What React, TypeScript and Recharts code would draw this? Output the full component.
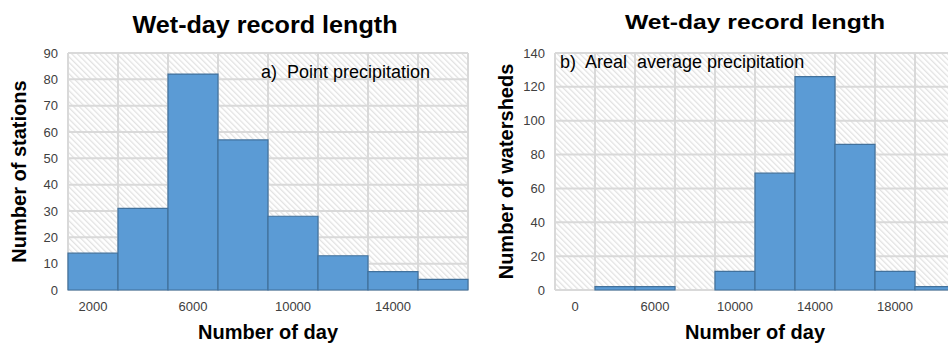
import { Bar, BarChart, CartesianGrid, XAxis, YAxis } from "recharts";

// a) point precipitation, bins of 2000 days
const binsA = ["2000", "4000", "6000", "8000", "10000", "12000", "14000", "16000"];
const stationsA = [14, 31, 82, 57, 28, 13, 7, 4];
const yTicksA = [0, 10, 20, 30, 40, 50, 60, 70, 80, 90];

// b) areal average precipitation
const binsB = ["0", "3000", "6000", "8000", "10000", "12000", "14000", "16000", "18000", "20000"];
const watershedsB = [0, 2, 2, 0, 11, 69, 126, 86, 11, 2];
const yTicksB = [0, 20, 40, 60, 80, 100, 120, 140];

const dataA = binsA.map((bin, i) => ({ bin, count: stationsA[i] }));
const dataB = binsB.map((bin, i) => ({ bin, count: watershedsB[i] }));

const FONT = "'Liberation Sans', Arial, sans-serif";
const tickStyle = { fontSize: 13, fill: "#404040", fontFamily: FONT };
const axisTitle = { fontSize: 20, fontWeight: 700, fill: "#000", fontFamily: FONT, textAnchor: "middle" as const };

// grid lines sit on the bin edges, not the category centres
const binEdges = (n: number) => ({ offset, width }: any) => {
    const w = offset.width ?? width - offset.left - offset.right;
    return Array.from({ length: n + 1 }, (_, i) => offset.left + (i * w) / n);
};

function Histogram({
    data,
    ticks,
    max,
    yLabel,
    yWidth,
    width,
    right,
}: {
    data: { bin: string; count: number }[];
    ticks: number[];
    max: number;
    yLabel: string;
    yWidth: number;
    width: number;
    right: number;
}) {
    return (
        <BarChart
            width={width}
            height={344}
            data={data}
            margin={{ top: 53, right, bottom: 0, left: 0 }}
            barCategoryGap={0}
            barGap={0}
        >
            <CartesianGrid
                stroke="#d9d9d9"
                strokeWidth={2}
                fill="url(#hatch)"
                fillOpacity={1}
                verticalCoordinatesGenerator={binEdges(data.length)}
            />
            <XAxis
                dataKey="bin"
                interval={1}
                height={54}
                axisLine={false}
                tickLine={false}
                tickMargin={6}
                tick={tickStyle}
                label={{ value: "Number of day", position: "insideBottom", offset: 5, style: axisTitle }}
            />
            <YAxis
                domain={[0, max]}
                ticks={ticks}
                width={yWidth}
                axisLine={false}
                tickLine={false}
                tickMargin={4}
                tick={tickStyle}
                label={{ value: yLabel, angle: -90, position: "insideLeft", offset: yWidth - 49, style: axisTitle }}
            />
            <Bar dataKey="count" fill="#5b9bd5" stroke="#41719c" strokeWidth={1.2} isAnimationActive={false} />
        </BarChart>
    );
}

export default function App() {
    return (
        <div
            style={{
                position: "absolute",
                left: 0,
                top: 0,
                width: 948,
                height: 344,
                overflow: "hidden",
                background: "#fff",
                fontFamily: FONT,
            }}
        >
            <svg width={0} height={0} style={{ position: "absolute" }}>
                <defs>
                    <pattern id="hatch" width={4} height={4} patternUnits="userSpaceOnUse" patternTransform="rotate(-45)">
                        <rect x={0} y={0} width={1.3} height={4} fill="#e2e2e2" />
                    </pattern>
                </defs>
            </svg>
            <div style={{ position: "absolute", left: 0, top: 0 }}>
                <Histogram data={dataA} ticks={yTicksA} max={90} yLabel="Number of stations" yWidth={68} width={480} right={12} />
            </div>
            <div style={{ position: "absolute", left: 480, top: 0 }}>
                <Histogram data={dataB} ticks={yTicksB} max={140} yLabel="Number of watersheds" yWidth={75} width={480} right={5} />
            </div>
            <svg width={948} height={344} style={{ position: "absolute", left: 0, top: 0, pointerEvents: "none" }}>
                <text x={265} y={33} textAnchor="middle" fontSize={23} fontWeight={700} fontFamily={FONT} textLength={265} lengthAdjust="spacingAndGlyphs">
                    Wet-day record length
                </text>
                <text x={755} y={29} textAnchor="middle" fontSize={21} fontWeight={700} fontFamily={FONT} textLength={260} lengthAdjust="spacingAndGlyphs">
                    Wet-day record length
                </text>
                <text x={261} y={78} fontSize={18} fontFamily={FONT} fill="#000" style={{ whiteSpace: "pre" }}>
                    {"a)  Point precipitation"}
                </text>
                <text x={560} y={68} fontSize={18} fontFamily={FONT} fill="#000" style={{ whiteSpace: "pre" }}>
                    {"b)  Areal  average precipitation"}
                </text>
            </svg>
        </div>
    );
}
